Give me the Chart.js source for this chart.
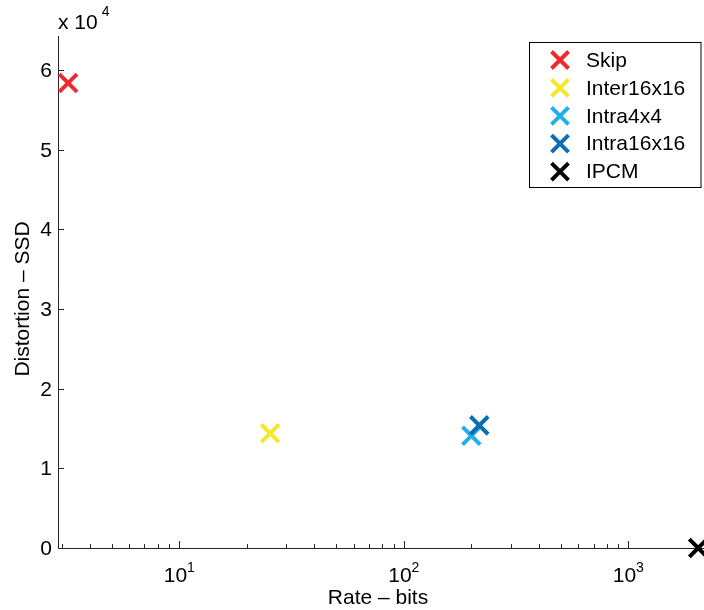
<!DOCTYPE html>
<html>
<head>
<meta charset="utf-8">
<script src="https://cdn.jsdelivr.net/npm/chart.js@4/dist/chart.umd.min.js"></script>
<style>
  html, body { margin: 0; padding: 0; background: #fff; }
  #wrap { width: 704px; height: 610px; }
</style>
</head>
<body>
<div id="wrap"><canvas id="rdChart" width="704" height="610"></canvas></div>
<script>
const modes = ["Skip", "Inter16x16", "Intra4x4", "Intra16x16", "IPCM"];
const rates = [3.2, 25.4, 200, 217, 2048];
const distortions = [58400, 14400, 14100, 15400, 0];
const modeColors = ["#ee2a2e", "#f5e82a", "#21b0ea", "#0b6db3", "#000000"];
const drawOrder = [5, 4, 3, 2, 1];
const yTicks = [0, 1, 2, 3, 4, 5, 6];
const yExponent = 4;
const xDecades = [1, 2, 3];

const FONT = "Liberation Sans, Arial, sans-serif";
const AXIS = "#262626";

function crossAt(ctx, x, y, r, color) {
  ctx.save();
  ctx.strokeStyle = color;
  ctx.lineWidth = 4;
  ctx.beginPath();
  ctx.moveTo(x - r, y - r); ctx.lineTo(x + r, y + r);
  ctx.moveTo(x - r, y + r); ctx.lineTo(x + r, y - r);
  ctx.stroke();
  ctx.restore();
}

const matlabAxes = {
  id: "matlabAxes",
  beforeDatasetsDraw(chart) {
    const { ctx, chartArea: a, scales: { x, y } } = chart;
    ctx.save();
    ctx.strokeStyle = AXIS;
    ctx.lineWidth = 1;
    ctx.beginPath();
    ctx.moveTo(a.left + 0.5, a.top);
    ctx.lineTo(a.left + 0.5, a.bottom + 0.5);
    ctx.lineTo(a.right, a.bottom + 0.5);
    ctx.stroke();

    // y ticks + labels
    ctx.fillStyle = "#000";
    ctx.font = "21px " + FONT;
    ctx.textAlign = "right";
    ctx.textBaseline = "middle";
    yTicks.forEach(t => {
      const py = Math.round(y.getPixelForValue(t * Math.pow(10, yExponent))) + 0.5;
      ctx.beginPath();
      ctx.moveTo(a.left, py);
      ctx.lineTo(a.left + 6, py);
      ctx.stroke();
      ctx.fillText(String(t), a.left - 6, py + 1);
    });

    // x minor / major ticks
    for (let d = 0; d <= 3; d++) {
      for (let m = 1; m <= 9; m++) {
        const v = m * Math.pow(10, d);
        if (v < x.min || v > x.max) continue;
        const px = Math.round(x.getPixelForValue(v)) + 0.5;
        const len = m === 1 ? 7 : 4;
        ctx.beginPath();
        ctx.moveTo(px, a.bottom);
        ctx.lineTo(px, a.bottom - len);
        ctx.stroke();
      }
    }

    // x tick labels 10^n
    ctx.textAlign = "left";
    ctx.textBaseline = "alphabetic";
    xDecades.forEach(n => {
      const px = x.getPixelForValue(Math.pow(10, n));
      ctx.font = "21px " + FONT;
      const w1 = ctx.measureText("10").width;
      ctx.font = "14px " + FONT;
      const w2 = ctx.measureText(String(n)).width;
      const sx = px - (w1 + w2) / 2;
      ctx.font = "21px " + FONT;
      ctx.fillText("10", sx, 582);
      ctx.font = "14px " + FONT;
      ctx.fillText(String(n), sx + w1, 572);
    });

    // exponent label
    ctx.font = "21px " + FONT;
    ctx.fillText("x 10", a.left, 29);
    const we = ctx.measureText("x 10").width;
    ctx.font = "14px " + FONT;
    ctx.fillText(String(yExponent), a.left + we + 4, 16);

    // axis titles
    ctx.font = "21px " + FONT;
    ctx.textAlign = "center";
    ctx.fillText("Rate \u2013 bits", 378, 604);
    ctx.save();
    ctx.translate(29, 299);
    ctx.rotate(-Math.PI / 2);
    ctx.fillText("Distortion \u2013 SSD", 0, 0);
    ctx.restore();
    ctx.restore();
  },
  afterDraw(chart) {
    const { ctx } = chart;
    ctx.save();
    ctx.fillStyle = "#fff";
    ctx.fillRect(529.5, 42.5, 171.5, 145);
    ctx.strokeStyle = "#000";
    ctx.lineWidth = 1;
    ctx.strokeRect(529.5, 42.5, 171.5, 145);
    ctx.font = "21px " + FONT;
    ctx.textAlign = "left";
    ctx.textBaseline = "middle";
    ctx.fillStyle = "#000";
    chart.data.datasets.forEach((ds, i) => {
      const cy = 60 + i * 27.9;
      crossAt(ctx, 560, cy, 8.5, ds.borderColor);
      ctx.fillText(ds.label, 586, cy + 1);
    });
    ctx.restore();
  }
};

new Chart(document.getElementById("rdChart"), {
  type: "scatter",
  data: {
    datasets: modes.map((m, i) => ({
      label: m,
      data: [{ x: rates[i], y: distortions[i] }],
      borderColor: modeColors[i],
      backgroundColor: modeColors[i],
      pointStyle: "crossRot",
      pointRadius: 12.5,
      pointHoverRadius: 12.5,
      pointBorderWidth: 4,
      order: drawOrder[i],
      clip: false
    }))
  },
  options: {
    responsive: false,
    animation: false,
    events: [],
    layout: { autoPadding: false, padding: { left: 58, top: 36, right: 0, bottom: 62 } },
    plugins: { legend: { display: false }, tooltip: { enabled: false } },
    scales: {
      x: { type: "logarithmic", min: 2.883, max: 2174, display: false },
      y: { type: "linear", min: 0, max: 64300, display: false }
    }
  },
  plugins: [matlabAxes]
});
</script>
</body>
</html>
